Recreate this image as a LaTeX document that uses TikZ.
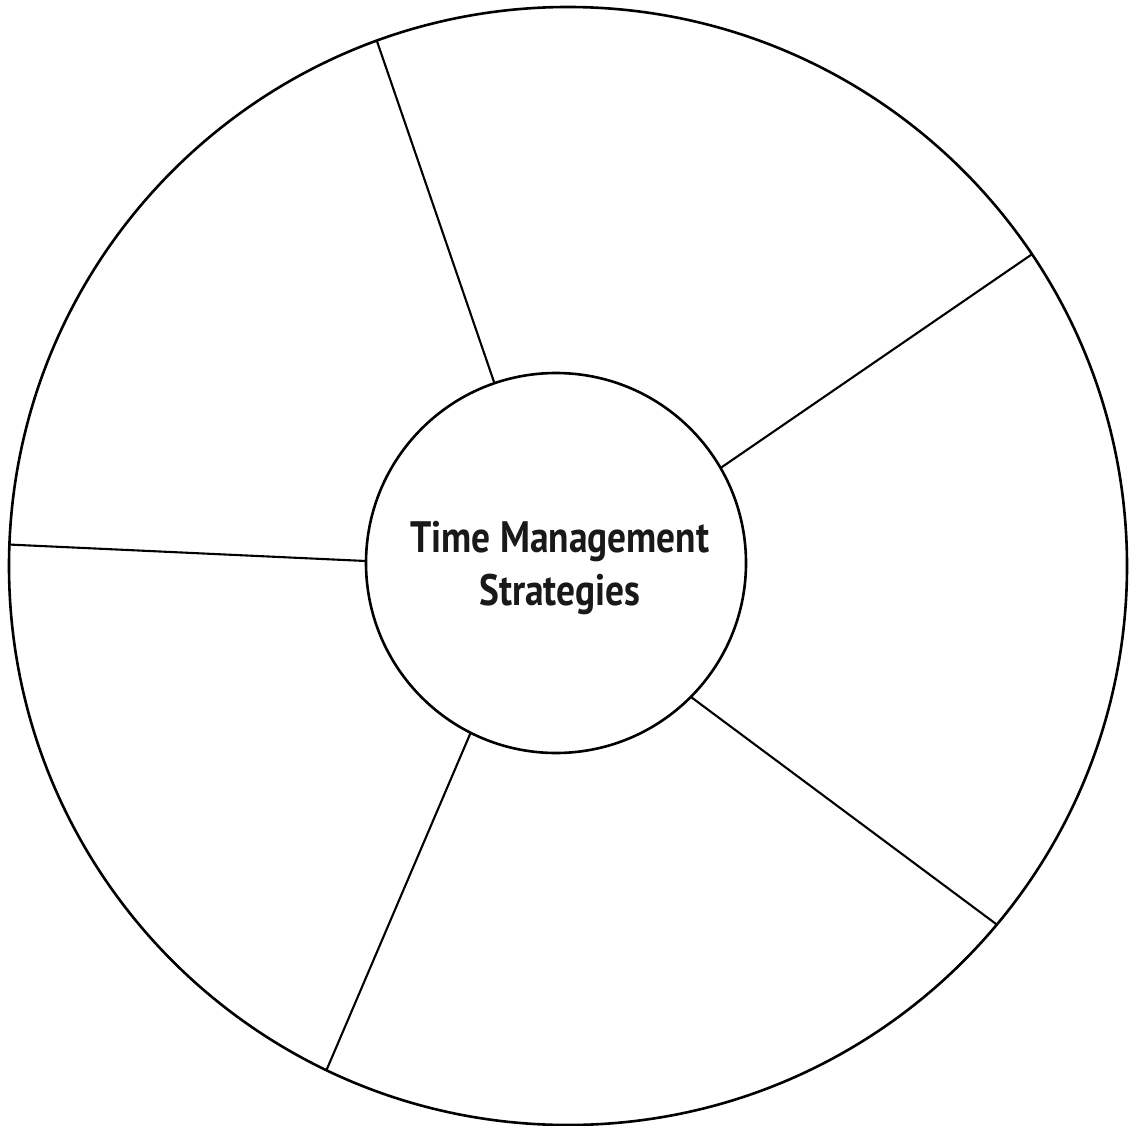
\documentclass[tikz,border=0pt]{standalone}
\usepackage{fontspec}
\setsansfont{PT Sans}
\newfontfamily\hubfont[FakeStretch=0.85]{PT Sans}
\usepackage{tikz}
\usetikzlibrary{shapes,positioning,calc}

\begin{document}
\begin{tikzpicture}[x=1pt, y=-1pt]
    \useasboundingbox (0,0) rectangle (1135,1126);
    \node[circle, draw, line width=2.6pt, minimum size=1118pt, inner sep=0pt, outer sep=0pt] (rim) at (568,566) {};
    \node[circle, draw, fill=white, line width=2.6pt, minimum size=380pt, inner sep=0pt, outer sep=0pt] (hub) at (556,563) {};
    \node[align=center, font=\hubfont\bfseries\fontsize{44}{53}\selectfont, text=black!90,
          xshift=4pt, yshift=-5pt] (title) at (hub) {Time Management\\Strategies};
    \foreach \a/\b in {108.9/110, 30/33.9, -44.8/-39.9, 243.3/244.4, 179.4/177.8}
        \draw[line width=2.1pt] ($(hub.center)+(\a:190pt)$) -- ($(rim.center)+(\b:559pt)$);
\end{tikzpicture}
\end{document}
